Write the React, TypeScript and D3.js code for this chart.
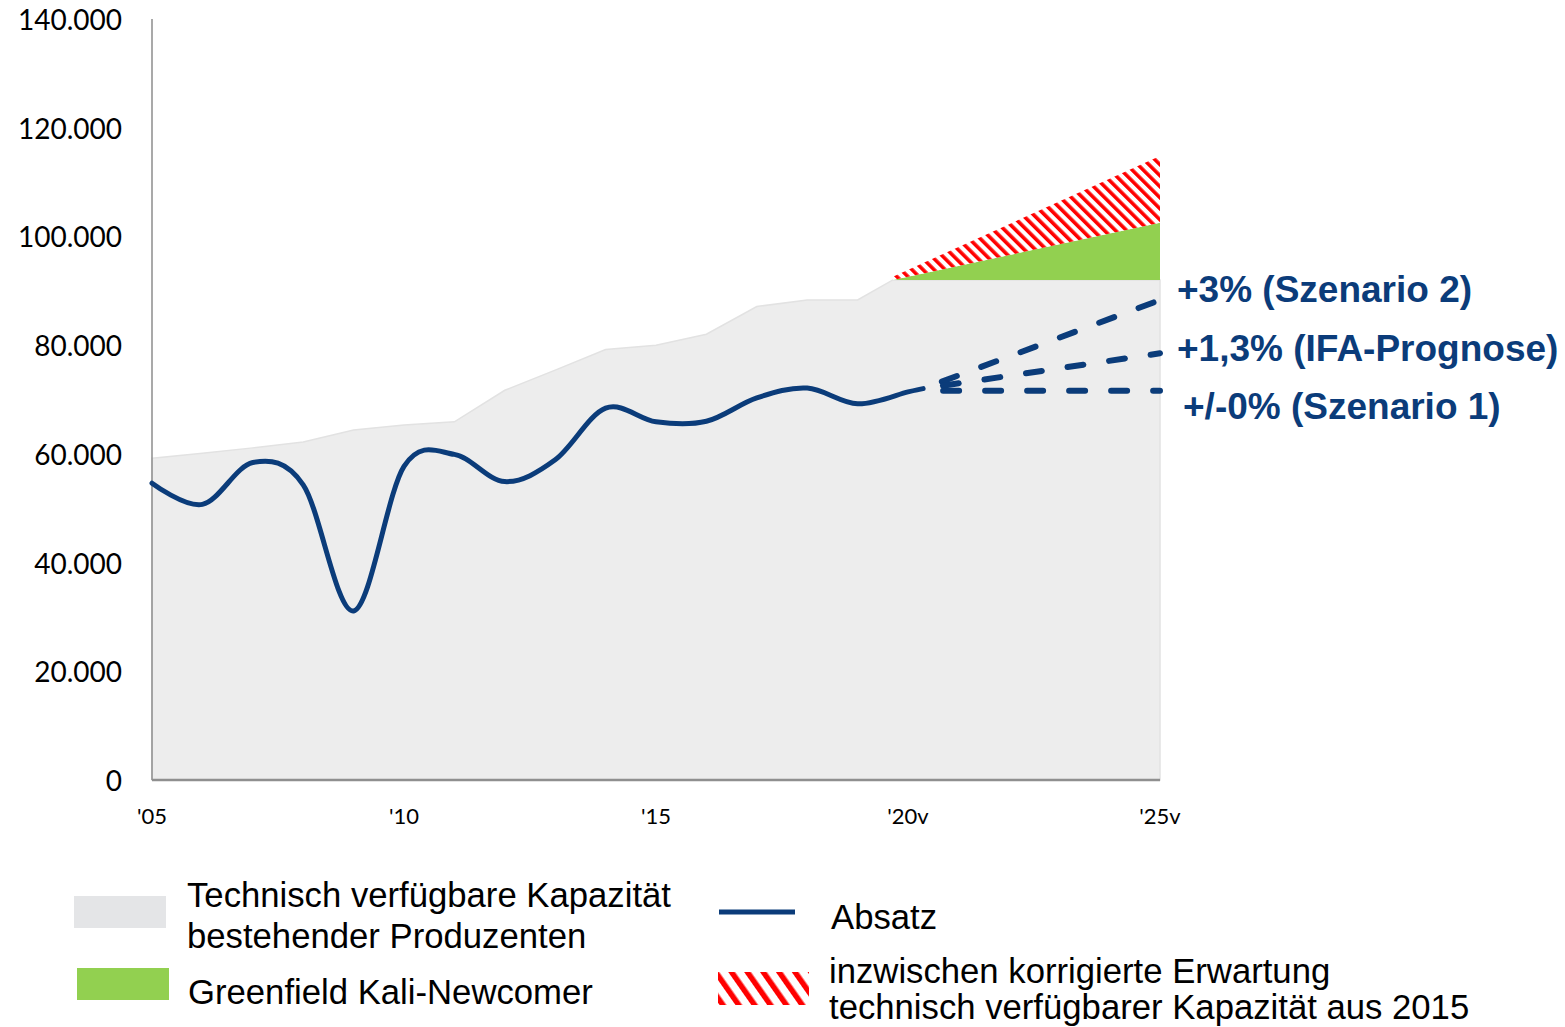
import { area, curveCardinal, curveLinear, formatLocale, line, scaleLinear } from "d3";
import { FC } from "react";

// Technisch verfügbare Kapazität bestehender Produzenten
const capYears = [2005, 2006, 2007, 2008, 2009, 2010, 2011, 2012, 2013, 2014, 2015, 2016, 2017, 2018, 2019, 2019.7, 2025];
const capValues = [59200, 60100, 61100, 62200, 64400, 65300, 65900, 71700, 75400, 79200, 80000, 82000, 87100, 88300, 88300, 92000, 92000];

// Greenfield + korrigierte Erwartung (oberhalb der Kapazität)
const extYears = [2019.7, 2025];
const greenTop = [92000, 102500];
const hatchTop = [92600, 114800];

// Absatz
const salesYears = [2005, 2006, 2007, 2008, 2009, 2010, 2011, 2012, 2013, 2014, 2015, 2016, 2017, 2018, 2019, 2020, 2020.3];
const salesValues = [54600, 50700, 58400, 54300, 31100, 57700, 59900, 54900, 58900, 68400, 65900, 66000, 70300, 72100, 69200, 71400, 72000];

// Szenarien 2020 -> 2025
const scenarioYears = [2020.3, 2025];
const scenarios = [
  { label: "+3% (Szenario 2)", values: [72000, 88300], lx: 1177, ly: 302 },
  { label: "+1,3% (IFA-Prognose)", values: [72000, 78500], lx: 1177, ly: 361 },
  { label: "+/-0% (Szenario 1)", values: [71600, 71600], lx: 1183, ly: 419 },
];

const yTicks = [0, 20000, 40000, 60000, 80000, 100000, 120000, 140000];
const xTicks = [2005, 2010, 2015, 2020, 2025];
const xTickLabels = ["'05", "'10", "'15", "'20v", "'25v"];

const BLUE = "#0b3c7a";
const de = formatLocale({ decimal: ",", thousands: ".", grouping: [3], currency: ["", "€"] });
const fmt = de.format(",d");

const App: FC = () => {
  const width = 1565;
  const height = 1027;

  const x = scaleLinear().domain([2005, 2025]).range([152, 1160]);
  const y = scaleLinear().domain([0, 140000]).range([780, 19]);

  const capArea = area<number>()
    .x((_, i) => x(capYears[i]))
    .y0(y(0))
    .y1((d) => y(d))
    .curve(curveLinear);

  const greenArea = area<number>()
    .x((_, i) => x(extYears[i]))
    .y0(y(92000))
    .y1((d) => y(d));

  const hatchArea = area<number>()
    .x((_, i) => x(extYears[i]))
    .y0((_, i) => y(greenTop[i]))
    .y1((d) => y(d));

  const salesLine = line<number>()
    .x((_, i) => x(salesYears[i]))
    .y((d) => y(d))
    .curve(curveCardinal.tension(0));

  const scenLine = line<number>()
    .x((_, i) => x(scenarioYears[i]))
    .y((d) => y(d));

  const sans = "'Liberation Sans', Arial, sans-serif";

  return (
    <svg
      width={width}
      height={height}
      style={{ position: "absolute", left: 0, top: 0, background: "#fff" }}
    >
      <defs>
        <pattern id="hatch" patternUnits="userSpaceOnUse" width="7.8" height="7.8" patternTransform="rotate(-45)">
          <rect width="7.8" height="7.8" fill="#fff" />
          <rect width="3.6" height="7.8" fill="#ff0000" />
        </pattern>
        <pattern id="hatchLegend" patternUnits="userSpaceOnUse" width="13" height="13" patternTransform="rotate(-35)">
          <rect width="13" height="13" fill="#fff" />
          <rect width="5.5" height="13" fill="#ff0000" />
        </pattern>
      </defs>

      {/* areas */}
      <path d={capArea(capValues) ?? ""} fill="#ededed" stroke="#e2e2e2" strokeWidth={1.5} />
      <path d={greenArea(greenTop) ?? ""} fill="#92d050" />
      <path d={hatchArea(hatchTop) ?? ""} fill="url(#hatch)" />

      {/* axes */}
      <line x1={152} x2={152} y1={19} y2={780} stroke="#8c8c8c" strokeWidth={1.5} />
      <line x1={152} x2={1160} y1={780} y2={780} stroke="#8f8f8f" strokeWidth={2.5} />

      {yTicks.map((t) => (
        <text
          key={t}
          x={122}
          y={y(t)}
          textAnchor="end"
          dominantBaseline="central"
          fontFamily="Lato, sans-serif"
          fontSize={28}
          fill="#000"
        >
          {fmt(t)}
        </text>
      ))}
      {xTicks.map((t, i) => (
        <text
          key={t}
          x={x(t)}
          y={815}
          textAnchor="middle"
          dominantBaseline="central"
          fontFamily="Lato, sans-serif"
          fontSize={22}
          fill="#000"
        >
          {xTickLabels[i]}
        </text>
      ))}

      {/* Absatz */}
      <path d={salesLine(salesValues) ?? ""} fill="none" stroke={BLUE} strokeWidth={5} strokeLinejoin="round" strokeLinecap="round" />

      {scenarios.map((s) => (
        <g key={s.label}>
          <path
            d={scenLine(s.values) ?? ""}
            fill="none"
            stroke={BLUE}
            strokeWidth={6}
            strokeLinecap="round"
            strokeDasharray="16 26"
            strokeDashoffset={-20}
          />
          <text x={s.lx} y={s.ly} fontFamily={sans} fontWeight="bold" fontSize={37} fill={BLUE}>
            {s.label}
          </text>
        </g>
      ))}

      {/* legend */}
      <rect x={74} y={896} width={92} height={32} fill="#e4e5e7" />
      <text x={187} y={907} fontFamily={sans} fontSize={34.7} fill="#000">
        Technisch verfügbare Kapazität
      </text>
      <text x={187} y={948} fontFamily={sans} fontSize={34.7} fill="#000">
        bestehender Produzenten
      </text>
      <rect x={77} y={968} width={92} height={32} fill="#92d050" />
      <text x={188} y={1004} fontFamily={sans} fontSize={34.7} fill="#000">
        Greenfield Kali-Newcomer
      </text>

      <line x1={719} x2={795} y1={912} y2={912} stroke={BLUE} strokeWidth={5} />
      <text x={831} y={929} fontFamily={sans} fontSize={34.7} fill="#000">
        Absatz
      </text>
      <rect x={718} y={972} width={91} height={33} fill="url(#hatchLegend)" />
      <text x={829} y={983} fontFamily={sans} fontSize={34.7} fill="#000">
        inzwischen korrigierte Erwartung
      </text>
      <text x={829} y={1019} fontFamily={sans} fontSize={34.7} fill="#000">
        technisch verfügbarer Kapazität aus 2015
      </text>
    </svg>
  );
};

export default App;
